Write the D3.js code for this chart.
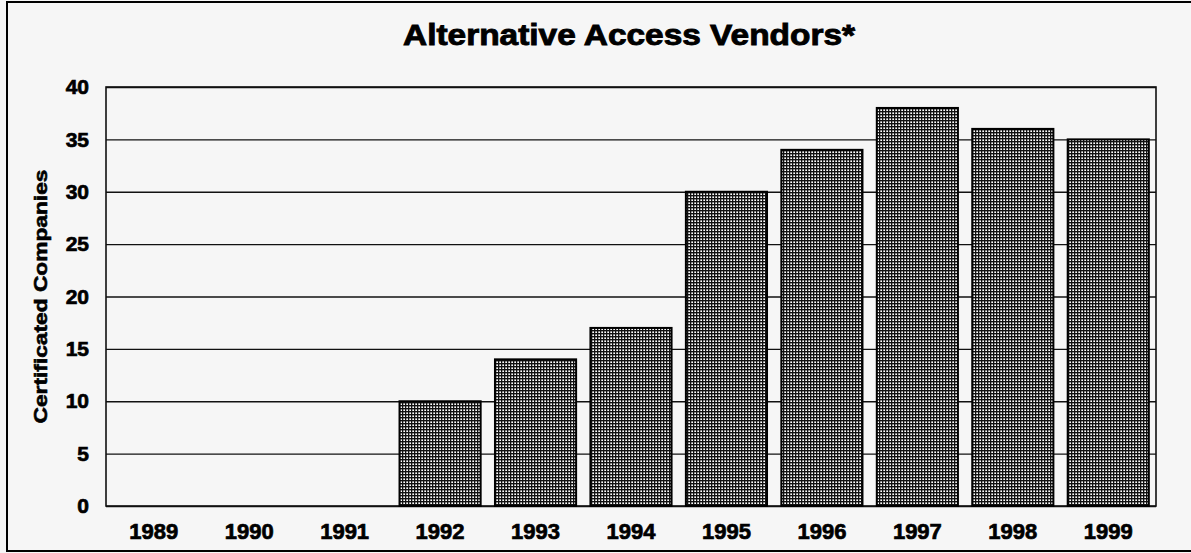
<!DOCTYPE html>
<html>
<head>
<meta charset="utf-8">
<script src="https://cdn.jsdelivr.net/npm/d3@7"></script>
<style>
  html, body { margin: 0; padding: 0; background: #f6f6f6; }
  svg { display: block; }
</style>
</head>
<body>
<div id="chart"></div>
<script>
// chart values
const years = ["1989", "1990", "1991", "1992", "1993", "1994", "1995", "1996", "1997", "1998", "1999"];
const companies = [0, 0, 0, 10, 14, 17, 30, 34, 38, 36, 35];
const yTicks = [0, 5, 10, 15, 20, 25, 30, 35, 40];

const width = 1191, height = 553;
const margin = { top: 87, right: 35, bottom: 47, left: 106 };

const svg = d3.select("#chart").append("svg")
  .attr("width", width)
  .attr("height", height)
  .style("font-family", "'Liberation Sans', Arial, sans-serif");

// cross-hatch fill like the scanned bars
const pat = svg.append("defs").append("pattern")
  .attr("id", "hatch")
  .attr("width", 3).attr("height", 3)
  .attr("patternUnits", "userSpaceOnUse");
pat.append("rect").attr("width", 3).attr("height", 3).attr("fill", "#fff");
pat.append("rect").attr("width", 3).attr("height", 1.4).attr("fill", "#111");
pat.append("rect").attr("width", 1.3).attr("height", 3).attr("fill", "#111");

// outer frame
svg.append("rect")
  .attr("x", 7).attr("y", 2)
  .attr("width", width + 10).attr("height", 549)
  .attr("fill", "none")
  .attr("stroke", "#000")
  .attr("stroke-width", 2);

const x = d3.scaleBand()
  .domain(years)
  .range([margin.left, width - margin.right])
  .paddingInner(0.15)
  .paddingOuter(0.075);

const y = d3.scaleLinear()
  .domain([0, 40])
  .range([height - margin.bottom, margin.top]);

// gridlines
svg.append("g")
  .attr("transform", `translate(${margin.left},0)`)
  .call(d3.axisLeft(y).tickValues(yTicks).tickSize(-(width - margin.left - margin.right)).tickFormat(""))
  .call(g => g.select(".domain").remove())
  .call(g => g.selectAll("line").attr("stroke", "#111").attr("stroke-width", 1.4));

// plot frame
svg.append("rect")
  .attr("x", margin.left).attr("y", margin.top)
  .attr("width", width - margin.left - margin.right)
  .attr("height", height - margin.top - margin.bottom)
  .attr("fill", "none")
  .attr("stroke", "#111")
  .attr("stroke-width", 1.6);

// bars
svg.append("g").selectAll("rect")
  .data(companies.map((v, i) => ({ year: years[i], v })).filter(d => d.v > 0))
  .join("rect")
  .attr("x", d => x(d.year))
  .attr("y", d => y(d.v))
  .attr("width", x.bandwidth())
  .attr("height", d => y(0) - y(d.v))
  .attr("fill", "url(#hatch)")
  .attr("stroke", "#000")
  .attr("stroke-width", 2);

const heavy = sel => sel
  .attr("font-weight", "bold")
  .attr("font-family", "'Liberation Sans', Arial, sans-serif")
  .attr("fill", "#000")
  .attr("stroke", "#000")
  .attr("stroke-width", 0.7);

// y axis labels
svg.append("g")
  .attr("transform", `translate(${margin.left - 17},0)`)
  .call(d3.axisLeft(y).tickValues(yTicks).tickSize(0).tickPadding(0))
  .call(g => g.select(".domain").remove())
  .call(g => g.selectAll("text").attr("font-size", 21).call(heavy));

// x axis labels
svg.append("g")
  .attr("transform", `translate(0,${height - margin.bottom})`)
  .call(d3.axisBottom(x).tickSize(0).tickPadding(17))
  .call(g => g.select(".domain").remove())
  .call(g => g.selectAll("text").attr("font-size", 22).call(heavy));

// title
svg.append("text")
  .attr("x", 629)
  .attr("y", 45)
  .attr("text-anchor", "middle")
  .attr("font-size", 29)
  .attr("textLength", 452)
  .attr("lengthAdjust", "spacingAndGlyphs")
  .call(heavy)
  .attr("stroke-width", 0.9)
  .text("Alternative Access Vendors*");

// y axis title
svg.append("text")
  .attr("transform", `translate(47,${(margin.top + height - margin.bottom) / 2}) rotate(-90)`)
  .attr("text-anchor", "middle")
  .attr("font-size", 19)
  .attr("textLength", 254)
  .attr("lengthAdjust", "spacingAndGlyphs")
  .call(heavy)
  .attr("stroke-width", 0.6)
  .text("Certificated Companies");
</script>
</body>
</html>
